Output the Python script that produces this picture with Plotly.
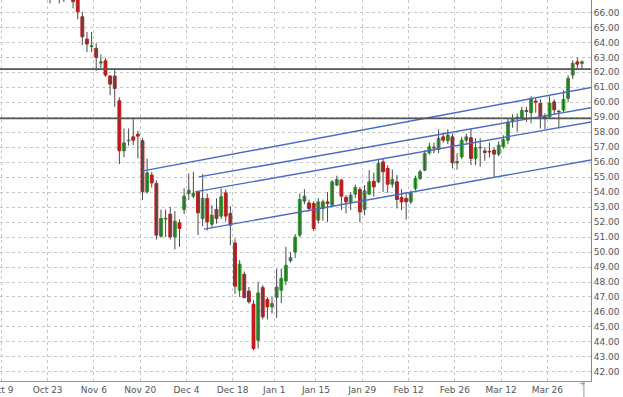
import plotly.graph_objects as go
import pandas as pd

# ---------------- data ----------------
start_date = "2017-10-09"
end_date = "2018-04-04"
holidays = ["2017-12-25", "2018-01-01"]

tick_dates = ["2017-10-09", "2017-10-23", "2017-11-06", "2017-11-20", "2017-12-04",
              "2017-12-18", "2018-01-01", "2018-01-15", "2018-01-29", "2018-02-12",
              "2018-02-26", "2018-03-12", "2018-03-26"]
tick_labels = ["Oct 9", "Oct 23", "Nov 6", "Nov 20", "Dec 4", "Dec 18", "Jan 1",
               "Jan 15", "Jan 29", "Feb 12", "Feb 26", "Mar 12", "Mar 26"]

open_ = [69.2, 69.5, 69.3, 69.7, 69.6, 69.1, 68.8, 69.0, 68.4, 68.1,
         67.7, 67.3, 67.6, 67.2, 67.4, 67.1, 66.95, 65.71, 64.22, 63.72,
         63.6, 62.62, 62.77, 61.75, 61.75, 60.1, 56.76, 57.43, 57.69, 57.87,
         57.43, 54.02, 55.14, 54.58, 51.06, 52.2, 52.53, 51.01, 51.95, 52.84,
         53.91, 53.73, 54.02, 52.24, 53.58, 51.86, 52.84, 52.4, 53.95, 52.58,
         50.61, 47.45, 48.52, 47.39, 46.52, 44.11, 47.63, 46.83, 46.34, 46.97,
         47.45, 48.07, 49.42, 50.0, 51.13, 53.4, 53.28, 53.24, 52.13, 52.91,
         53.35, 53.13, 54.47, 54.8, 53.65, 53.29, 53.87, 54.18, 52.84, 53.87,
         54.73, 54.69, 56.02, 55.58, 54.53, 54.69, 53.65, 53.58, 53.35, 54.25,
         54.91, 55.47, 56.62, 57.0, 56.85, 57.69, 57.43, 57.69, 55.95, 56.36,
         57.47, 57.63, 56.25, 56.95, 56.75, 56.72, 56.8, 56.54, 57.05, 57.47,
         58.7, 58.9, 58.92, 59.45, 59.3, 60.08, 59.92, 59.03, 59.03, 60.03,
         59.4, 59.48, 60.26, 61.82, 62.7, 62.6]
high = [69.8, 70.1, 69.9, 70.3, 70.0, 69.6, 69.4, 69.3, 68.9, 68.5,
        68.2, 67.9, 68.0, 67.7, 67.8, 67.3, 67.1, 66.04, 64.7, 64.69,
        63.93, 63.2, 62.95, 61.82, 62.22, 60.33, 58.25, 58.25, 58.92, 58.1,
        57.6, 56.25, 55.36, 54.78, 52.84, 52.84, 53.02, 52.73, 52.18, 54.25,
        55.25, 55.36, 54.09, 55.2, 53.91, 53.13, 53.58, 54.25, 54.18, 53.06,
        50.9, 49.46, 48.7, 47.67, 46.79, 48.01, 47.79, 47.0, 47.0, 48.9,
        48.9, 50.35, 50.0, 51.2, 53.91, 54.2, 53.5, 53.4, 53.6, 53.5,
        54.0, 54.8, 55.1, 54.9, 53.8, 54.0, 54.5, 54.35, 54.47, 55.47,
        55.3, 56.14, 56.25, 55.8, 55.5, 55.14, 54.2, 54.02, 54.1, 55.1,
        55.5, 56.8, 57.3, 57.3, 58.19, 58.0, 58.2, 57.92, 56.6, 57.7,
        57.9, 58.25, 57.6, 57.6, 57.0, 57.3, 57.0, 57.4, 57.8, 58.9,
        59.2, 59.26, 59.7, 59.7, 60.4, 60.3, 60.2, 59.26, 60.4, 60.2,
        59.5, 60.8, 61.8, 62.8, 63.0, 62.8]
low = [68.7, 69.0, 68.8, 69.2, 68.9, 68.5, 68.3, 68.1, 67.8, 67.4,
       66.6, 66.95, 66.6, 66.7, 66.9, 66.27, 65.54, 63.82, 63.35, 63.35,
       62.1, 62.3, 61.7, 60.48, 59.7, 55.87, 56.32, 57.1, 57.14, 56.25,
       53.47, 53.9, 54.3, 50.84, 50.95, 51.0, 50.84, 50.17, 50.35, 52.53,
       53.47, 53.6, 51.13, 51.73, 51.44, 51.64, 51.9, 52.2, 52.02, 50.46,
       47.2, 47.0, 46.9, 46.56, 43.45, 43.56, 45.5, 45.5, 45.9, 45.6,
       46.6, 47.8, 49.3, 49.6, 51.0, 53.2, 52.7, 51.4, 51.9, 52.1,
       52.0, 53.0, 54.4, 52.8, 52.58, 52.8, 53.6, 52.0, 52.46, 53.8,
       53.7, 54.6, 54.02, 53.95, 54.3, 52.91, 52.8, 52.17, 53.2, 54.1,
       54.8, 55.4, 56.5, 56.6, 56.6, 57.3, 57.2, 55.58, 55.5, 56.2,
       57.3, 55.8, 55.8, 55.7, 56.1, 56.3, 54.95, 56.4, 56.9, 57.2,
       58.3, 58.03, 58.8, 58.7, 58.6, 59.3, 58.25, 58.2, 58.9, 59.2,
       58.25, 59.3, 60.0, 61.55, 62.2, 62.2]
close = [69.5, 69.3, 69.7, 69.6, 69.1, 68.8, 69.0, 68.4, 68.1, 67.7,
         67.3, 67.6, 67.2, 67.4, 67.1, 66.72, 66.04, 64.37, 63.89, 63.78,
         63.0, 62.7, 61.82, 61.21, 60.93, 56.76, 57.29, 57.47, 57.47, 57.74,
         54.02, 55.29, 54.62, 51.13, 52.24, 52.26, 51.01, 52.06, 51.57, 53.73,
         54.13, 53.91, 52.62, 53.58, 52.02, 52.46, 52.24, 53.69, 52.4, 51.8,
         47.72, 49.19, 46.97, 46.67, 43.56, 47.27, 45.67, 46.34, 46.56, 47.67,
         48.24, 49.12, 49.62, 51.0, 53.51, 53.73, 52.91, 51.57, 53.35, 53.35,
         53.24, 54.69, 54.85, 53.73, 53.35, 53.8, 54.31, 52.68, 54.09, 54.69,
         54.35, 55.92, 55.36, 54.53, 54.85, 53.51, 53.35, 53.35, 53.95, 54.91,
         55.36, 56.58, 57.03, 56.95, 57.59, 57.47, 57.81, 55.96, 56.05, 57.47,
         57.69, 56.25, 56.98, 57.0, 56.65, 56.68, 56.54, 57.14, 57.5, 58.68,
         58.92, 59.0, 59.45, 59.38, 60.26, 60.0, 59.03, 58.9, 59.95, 59.5,
         59.36, 60.19, 61.6, 62.6, 62.55, 62.7]

price_ticks = list(range(42, 68))
levels = [62.22, 58.92]

# trend channels: start (trading-day index, price) -> end (trading-day index, price)
channel_x0 = [30.1, 42.2, 41.35, 43.3]
channel_y0 = [55.42, 55.02, 54.02, 51.53]
channel_x1 = [128.0, 128.0, 128.0, 128.0]
channel_y1 = [61.05, 59.69, 58.74, 56.20]

# ---------------- build ----------------
days = pd.bdate_range(start_date, end_date)
days = days[~days.isin(pd.to_datetime(holidays))]
idx = list(range(len(days)))


def day_pos(d):
    d = pd.Timestamp(d)
    return int((days < d).sum()) - 0.5


tickvals = [day_pos(d) for d in tick_dates]

UP = "#2f9e2f"
DOWN = "#c9191c"
WICK = "#4a4a4a"
FONT = "DejaVu Sans"

wx, wy = [], []
for i, h, l in zip(idx, high, low):
    wx += [i, i, None]
    wy += [l, h, None]

body_col = [UP if c >= o else DOWN for o, c in zip(open_, close)]
body_h = [c - o for o, c in zip(open_, close)]

fig = go.Figure()
fig.add_trace(go.Scatter(x=wx, y=wy, mode="lines",
                         line=dict(color=WICK, width=1),
                         hoverinfo="skip", showlegend=False))
fig.add_trace(go.Bar(x=idx, y=body_h, base=open_, width=0.62,
                     marker=dict(color=body_col, line=dict(color=body_col, width=1)),
                     hoverinfo="skip", showlegend=False))

for x0, y0, x1, y1 in zip(channel_x0, channel_y0, channel_x1, channel_y1):
    fig.add_trace(go.Scatter(x=[x0, x1], y=[y0, y1], mode="lines",
                             line=dict(color="#4a6bc9", width=1.4),
                             hoverinfo="skip", showlegend=False))

for lv in levels:
    fig.add_shape(type="line", xref="paper", x0=0, x1=1, yref="y", y0=lv, y1=lv,
                  line=dict(color="#555555", width=1.8), layer="above")

ymin, ymax = 41.39, 66.83
hidden = [t for t in price_ticks if t > ymax]
for t in hidden:
    fig.add_annotation(x=1, xref="paper", xanchor="left", xshift=0,
                       y=t, yref="y", yanchor="middle", text=f"{t:.2f}",
                       showarrow=False, font=dict(family=FONT, size=9, color="#555555"))

# small corner separator and icon below the price scale
fig.add_shape(type="line", xref="paper", yref="paper", x0=0.988, x1=0.988,
              y0=0, y1=-0.045, line=dict(color="#999999", width=1))
fig.add_annotation(x=0.9955, xref="paper", y=-0.023, yref="paper", text="+",
                   showarrow=False, font=dict(family=FONT, size=8, color="#999999"))

fig.update_layout(
    width=623, height=397, autosize=False,
    margin=dict(l=0, r=32, t=0, b=16, autoexpand=False),
    paper_bgcolor="white", plot_bgcolor="white",
    bargap=0, showlegend=False, hovermode=False,
    font=dict(family=FONT, size=9, color="#555555"),
    xaxis=dict(range=[-0.8, 126.95], tickmode="array", tickvals=tickvals,
               ticktext=tick_labels, showgrid=True, gridcolor="#c8c8c8",
               griddash="dot", gridwidth=1, zeroline=False, showline=True,
               linecolor="#999999", linewidth=1, ticks="", fixedrange=True,
               ticklabeloverflow="allow", automargin=False,
               tickfont=dict(family=FONT, size=9, color="#555555")),
    yaxis=dict(range=[ymin, ymax], side="right", tickmode="array",
               tickvals=price_ticks, ticktext=[f"{t:.2f}" for t in price_ticks],
               showgrid=True, gridcolor="#c8c8c8", griddash="dot", gridwidth=1,
               zeroline=False, showline=True, linecolor="#888888", linewidth=1,
               ticks="", fixedrange=True, ticklabeloverflow="allow", automargin=False,
               tickfont=dict(family=FONT, size=9, color="#555555")),
)

fig.write_html("out.html", config={"displayModeBar": False, "staticPlot": True},
               post_script="document.body.style.margin='0';")
